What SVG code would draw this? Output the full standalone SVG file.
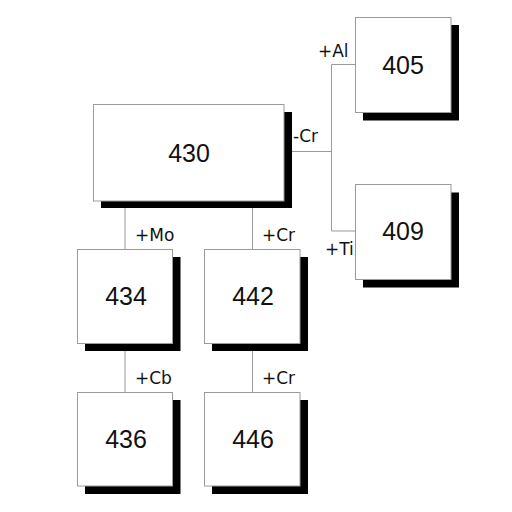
<svg xmlns="http://www.w3.org/2000/svg" width="512" height="512" viewBox="0 0 512 512">
<defs>
<style>
.box{fill:#fff;stroke:#9a9a9a;stroke-width:1}
.sh{fill:#000}
.num{font-family:"Liberation Sans",Arial,sans-serif;font-size:25px;fill:#111;text-anchor:middle;dominant-baseline:central}
.lbl{font-family:"DejaVu Sans",Verdana,sans-serif;font-size:17px;fill:#111}
.con{stroke:#9a9a9a;stroke-width:1;fill:none}
</style>
</defs>
<rect width="512" height="512" fill="#fff"/>
<g id="connectors">
<path class="con" d="M292 151.5H331.5M331.5 64.5V231M331.5 64.5H355M331.5 231H355"/>
<path class="con" d="M125 208V249M252.5 208V249"/>
<path class="con" d="M125 351V392M252.5 351V392"/>
<text class="lbl" x="293" y="142">-Cr</text>
<text class="lbl" x="318" y="57">+Al</text>
<text class="lbl" x="325" y="255">+Ti</text>
<text class="lbl" x="135" y="241">+Mo</text>
<text class="lbl" x="262" y="241">+Cr</text>
<text class="lbl" x="135" y="384">+Cb</text>
<text class="lbl" x="262" y="384">+Cr</text>
</g>
<g id="n430">
<rect class="sh" x="101" y="112" width="191" height="96"/>
<rect class="box" x="93.5" y="104.5" width="190.5" height="96.5"/>
<text class="num" x="189" y="153">430</text>
</g>
<g id="n405">
<rect class="sh" x="363" y="25" width="96" height="95.5"/>
<rect class="box" x="355.5" y="17.5" width="95.5" height="95"/>
<text class="num" x="403" y="65">405</text>
</g>
<g id="n409">
<rect class="sh" x="363" y="192.5" width="96" height="95"/>
<rect class="box" x="355.5" y="184.5" width="95.5" height="95"/>
<text class="num" x="403" y="231">409</text>
</g>
<g id="n434">
<rect class="sh" x="85" y="257" width="95.5" height="94"/>
<rect class="box" x="77.5" y="249.5" width="95" height="94"/>
<text class="num" x="126" y="296">434</text>
</g>
<g id="n442">
<rect class="sh" x="212" y="257" width="96" height="94"/>
<rect class="box" x="204.5" y="249.5" width="95.5" height="94"/>
<text class="num" x="253" y="296">442</text>
</g>
<g id="n436">
<rect class="sh" x="85" y="400" width="95.5" height="94"/>
<rect class="box" x="77.5" y="392.5" width="95" height="93.5"/>
<text class="num" x="126" y="439">436</text>
</g>
<g id="n446">
<rect class="sh" x="212" y="400" width="96" height="94"/>
<rect class="box" x="204.5" y="392.5" width="95.5" height="93.5"/>
<text class="num" x="253" y="439">446</text>
</g>
</svg>
